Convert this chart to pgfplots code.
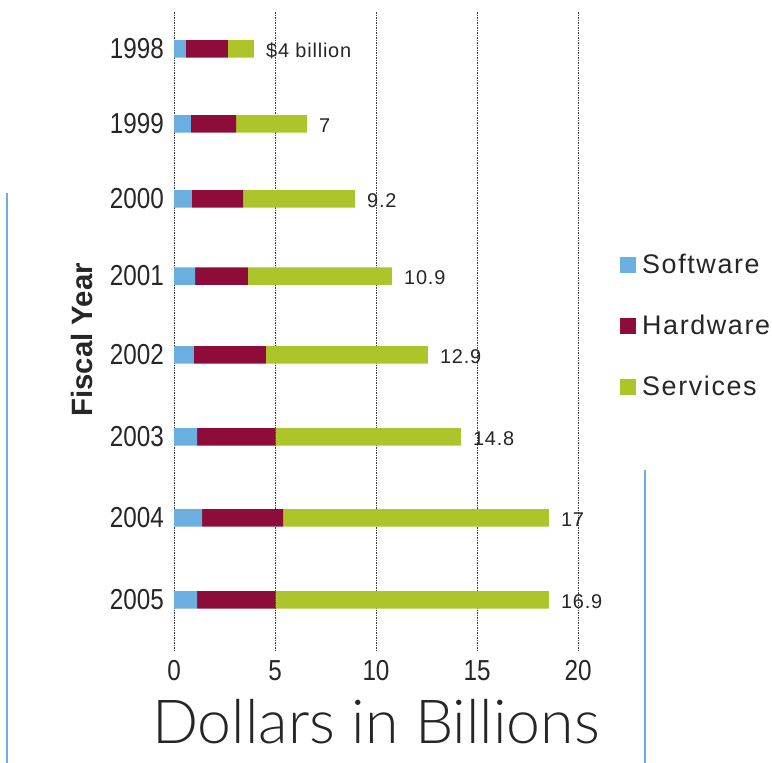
\documentclass[border=0pt]{standalone}
\usepackage{fontspec}
\setmainfont{Liberation Sans}
\newfontfamily\condfont{Liberation Sans}[FakeStretch=0.84]
\newfontfamily\legfont{Liberation Sans}[LetterSpace=6]
\newfontfamily\valfont{Liberation Sans}[LetterSpace=4]
\newfontfamily\lightfont{Lato Light}
\usepackage{pgfplots}
\usepackage{pgfplotstable}
\pgfplotsset{compat=1.18}

\definecolor{softc}{RGB}{107,174,224}
\definecolor{hardc}{RGB}{142,12,58}
\definecolor{servc}{RGB}{173,196,42}

% y holds the row position (reversed axis), the rest are segment lengths
\pgfplotstableread[col sep=comma]{
y,soft,hard,serv,tot,lab
48.8,0.59,2.08,1.29,3.96,\$4 billion
123.8,0.84,2.23,3.51,6.58,7
198.8,0.89,2.53,5.54,8.96,9.2
276,1.04,2.62,7.13,10.79,10.9
354.8,0.99,3.56,8.02,12.57,12.9
436.8,1.14,3.89,9.17,14.2,14.8
517.8,1.39,4.01,13.16,18.56,17
599.8,1.14,3.89,13.53,18.56,16.9
}\data

\pgfplotsset{frame/.style={
    at={(174bp,-651bp)}, anchor=south west,
    scale only axis,
    width=404bp, height=639bp,
    y dir=reverse,
    xmin=0, xmax=20,
    ymin=12, ymax=651,
    enlargelimits=false,
    clip=false,
}}

\begin{document}
\begin{tikzpicture}
\path[use as bounding box] (0,0) rectangle (772bp,-763bp);
\draw[softc, line width=2bp] (7bp,-193bp) -- (7bp,-763bp);
\draw[softc, line width=2bp] (645bp,-470bp) -- (645bp,-763bp);
\begin{axis}[
    frame,
    xbar stacked,
    bar width=17.5bp,
    axis line style={draw=none},
    major tick length=0pt,
    xtick={0,5,10,15,20},
    ytick={48.8,123.8,198.8,276,354.8,436.8,517.8,599.8},
    yticklabels={1998,1999,2000,2001,2002,2003,2004,2005},
    /pgf/number format/assume math mode=true,
    xmajorgrids=true,
    grid style={black!75, line width=0.7bp, dash pattern=on 1.5bp off 1bp},
    xticklabel style={font=\condfont\fontsize{29}{30}\selectfont, inner sep=0pt, yshift=-9bp, text=black!85},
    yticklabel style={font=\condfont\fontsize{29}{30}\selectfont, inner sep=0pt, xshift=-10bp, text=black!85},
    xlabel={Dollars in Billions},
    xlabel style={at={(axis description cs:0.5,-0.076)}, anchor=north, inner sep=0pt,
        font=\lightfont\fontsize{61}{63}\selectfont, text=black!85},
    ylabel={Fiscal Year},
    ylabel style={at={(axis description cs:-0.228,0.487)}, anchor=center, inner sep=0pt,
        font=\bfseries\fontsize{29.5}{31}\selectfont, text=black!85},
    legend style={at={(axis description cs:1.104,0.624)}, anchor=north west,
        draw=none, fill=none, inner sep=0pt, row sep=36bp,
        font=\legfont\fontsize{27}{29}\selectfont, text=black!85,
        /tikz/every odd column/.append style={column sep=4bp}},
    legend cell align=left,
    legend image code/.code={\fill[#1] (0bp,-8bp) rectangle (16bp,8bp);},
]
\addplot[fill=softc, draw=none] table[x=soft, y=y] {\data};
\addplot[fill=hardc, draw=none] table[x=hard, y=y] {\data};
\addplot[fill=servc, draw=none] table[x=serv, y=y] {\data};
\legend{Software,Hardware,Services}
\end{axis}
% totals written at the end of each bar
\begin{axis}[frame, hide axis]
\addplot[draw=none, mark=none,
    nodes near coords, point meta=explicit symbolic,
    nodes near coords style={anchor=west, inner sep=0pt, xshift=12bp, yshift=-2bp,
        font=\valfont\fontsize{20}{22}\selectfont, text=black!85}]
    table[x=tot, y=y, meta=lab] {\data};
\end{axis}
\end{tikzpicture}
\end{document}
